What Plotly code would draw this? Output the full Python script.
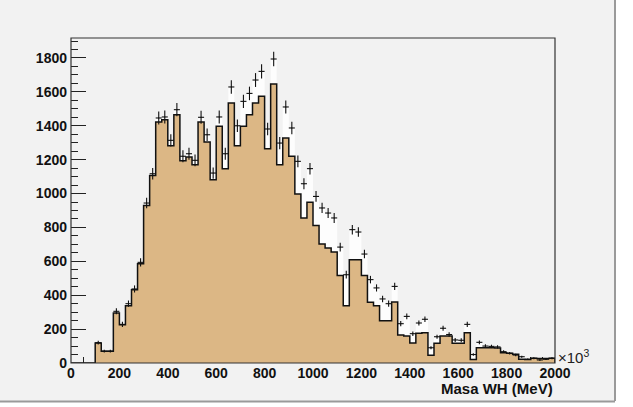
import numpy as np
import plotly.graph_objects as go

# ---- data (25 MeV bins from 0 to 2000 MeV) ----
BIN_WIDTH = 25
X_MIN = 0
background_counts = [
    0, 0, 0, 0, 118, 69, 69, 295, 226, 338,
    433, 586, 930, 1107, 1422, 1436, 1282, 1465, 1194, 1216,
    1170, 1422, 1304, 1082, 1397, 1147, 1534, 1282, 1397, 1465,
    1534, 1574, 1265, 1646, 1170, 1328, 1220, 997, 856, 948,
    812, 702, 679, 655, 517, 338, 610, 610, 517, 358,
    338, 250, 250, 360, 165, 160, 118, 175, 179, 45,
    116, 159, 159, 116, 116, 179, 20, 90, 90, 90,
    88, 61, 58, 52, 22, 20, 28, 26, 26, 28,
]
data_counts = [
    0, 0, 0, 0, 120, 70, 70, 305, 228, 350,
    437, 594, 944, 1117, 1446, 1452, 1314, 1495, 1220, 1235,
    1196, 1450, 1347, 1121, 1452, 1235, 1629, 1400, 1544, 1591,
    1670, 1721, 1381, 1794, 1298, 1511, 1387, 1190, 1058, 1147,
    983, 915, 885, 856, 684, 521, 787, 773, 643, 492,
    443, 378, 350, 452, 232, 275, 173, 236, 258, 90,
    155, 205, 168, 136, 134, 228, 50, 122, 100, 98,
    95, 67, 57, 47, 37, 22, 28, 18, 22, 28,
]
x_tick_vals = [0, 200, 400, 600, 800, 1000, 1200, 1400, 1600, 1800, 2000]
y_tick_vals = [0, 200, 400, 600, 800, 1000, 1200, 1400, 1600, 1800]
x_title = "Masa WH (MeV)"

n_bins = len(data_counts)
edges = X_MIN + BIN_WIDTH * np.arange(n_bins + 1)
centers = edges[:-1] + BIN_WIDTH / 2.0

def step_xy(vals):
    xs = list(edges) + [edges[-1]]
    ys = list(vals) + [vals[-1], 0]
    return xs, ys

fig = go.Figure()

# white "total" area
wx, wy = step_xy(data_counts)
fig.add_trace(go.Scatter(x=wx, y=wy, mode="lines", line=dict(shape="hv", width=0, color="white"),
                         fill="tozeroy", fillcolor="#fdfdfd", hoverinfo="skip", showlegend=False))
# tan histogram
bx, by = step_xy(background_counts)
fig.add_trace(go.Scatter(x=bx, y=by, mode="lines", line=dict(shape="hv", width=1.5, color="#111111"),
                         fill="tozeroy", fillcolor="#dcb785", hoverinfo="skip", showlegend=False))
# data crosses
d = np.array(data_counts, dtype=float)
mask = d > 0
fig.add_trace(go.Scatter(
    x=centers[mask], y=d[mask], mode="markers",
    marker=dict(size=1, color="#111111"),
    error_x=dict(type="constant", value=BIN_WIDTH / 2.0, width=0, thickness=1.1, color="#111111"),
    error_y=dict(type="data", array=np.sqrt(d[mask]), width=0, thickness=1.1, color="#111111"),
    hoverinfo="skip", showlegend=False))

L, R, T, B = 71, 78, 38, 44
W, H = 633, 407
pw, ph = W - L - R, H - T - B

def px(p):
    return (p - L) / pw

def py(p):
    return (H - B - p) / ph

tickfont = dict(family="Liberation Sans, Arial, sans-serif", size=14, color="#111111", weight="bold")

fig.update_layout(
    width=W, height=H,
    margin=dict(l=L, r=R, t=T, b=B, pad=0),
    paper_bgcolor="white",
    plot_bgcolor="#f2f2f2",
    xaxis=dict(range=[0, 2000], tickvals=x_tick_vals, ticks="inside", ticklen=11, tickwidth=1,
               tickcolor="#222222", showgrid=False, zeroline=False, showline=False,
               tickfont=tickfont, layer="below traces",
               minor=dict(dtick=50, ticks="inside", ticklen=6, tickcolor="#222222", showgrid=False)),
    yaxis=dict(range=[0, 1918], tickvals=y_tick_vals, ticks="inside", ticklen=15, tickwidth=1,
               tickcolor="#222222", showgrid=False, zeroline=False, showline=False,
               tickfont=tickfont, layer="below traces", ticklabelstandoff=3,
               minor=dict(dtick=50, ticks="inside", ticklen=7, tickcolor="#222222", showgrid=False)),
    shapes=[
        dict(type="rect", xref="paper", yref="paper", x0=px(0), x1=px(614), y0=py(401), y1=py(0),
             fillcolor="#f2f2f2", line=dict(width=0), layer="below"),
        dict(type="line", xref="paper", yref="paper", x0=px(615), x1=px(615), y0=py(401), y1=py(0),
             line=dict(color="#9a9a9a", width=2), layer="above"),
        dict(type="line", xref="paper", yref="paper", x0=px(0), x1=px(615), y0=py(401.5), y1=py(401.5),
             line=dict(color="#9a9a9a", width=2), layer="above"),
        dict(type="rect", xref="paper", yref="paper", x0=0, x1=1, y0=0, y1=1,
             line=dict(color="#333333", width=1.2), fillcolor="rgba(0,0,0,0)", layer="above"),
    ],
    annotations=[
        dict(text="×10<sup>3</sup>", xref="paper", yref="paper", x=px(556), y=py(356),
             xanchor="left", yanchor="middle", showarrow=False,
             font=dict(family="Liberation Sans, Arial, sans-serif", size=15, color="#222222")),
        dict(text="<b>" + x_title + "</b>", xref="paper", yref="paper", x=1.0, y=py(388),
             xanchor="right", yanchor="middle", showarrow=False,
             font=dict(family="Liberation Sans, Arial, sans-serif", size=15, color="#111111")),
    ],
)

fig.write_html("out.html")
